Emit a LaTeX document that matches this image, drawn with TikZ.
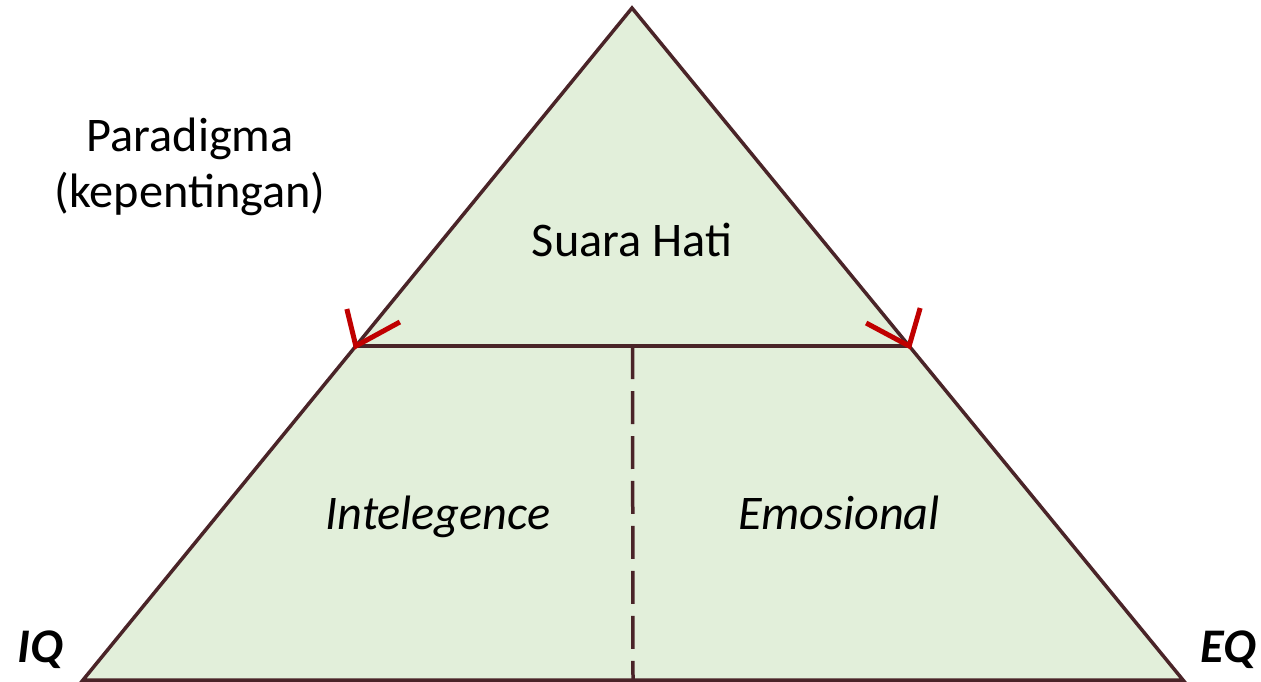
\documentclass[tikz,border=0pt]{standalone}
\usepackage{fontspec}
\setmainfont{Carlito}
\usetikzlibrary{calc}
\definecolor{pyrfill}{HTML}{E2EFDA}
\definecolor{pyrline}{HTML}{4A2428}
\definecolor{tipred}{HTML}{C00000}
\tikzset{
  pyrside/.style={draw=pyrline, line width=0.07cm},
  tipmark/.style={draw=tipred, line width=0.1cm},
  pyrtext/.style={font=\fontsize{27.5}{33}\selectfont, inner sep=0pt, anchor=base},
  slanttext/.style={pyrtext, font=\fontsize{27.5}{33}\selectfont\itshape},
  cornertext/.style={pyrtext, font=\fontsize{27.5}{33}\selectfont\bfseries\itshape}
}

\begin{document}
\begin{tikzpicture}[x=0.02cm, y=-0.02cm]
    \useasboundingbox (0,0) rectangle (1261,682);
    % corners of the pyramid
    \coordinate (apex) at (632,8);
    \coordinate (bl) at (83,680);
    \coordinate (br) at (1183,680);
    \coordinate (ml) at ($(apex)!0.503!(bl)$);
    \coordinate (mr) at ($(apex)!0.503!(br)$);
    \coordinate (mid) at ($(ml)!0.5!(mr)$);
    \coordinate (bm) at ($(bl)!0.5!(br)$);

    \fill [pyrfill] (apex) -- (bl) -- (br) -- cycle;
    \draw [pyrside, dash pattern=on 0.66cm off 0.24cm] (mid) -- (bm);
    \draw [pyrside] (ml) -- (mr);
    \draw [pyrside, line join=miter] (apex) -- (bl) -- (br) -- cycle;

    % red marks at the middle line
    \draw [tipmark] ($(ml)+(-9,-37)$) -- (ml) -- ($(ml)+(44,-24)$);
    \draw [tipmark] ($(mr)+(11,-38)$) -- (mr) -- ($(mr)+(-43,-23)$);

    \node (hati) [pyrtext] at (632,256) {Suara Hati};
    \node (intel) [slanttext] at (438,529) {Intelegence};
    \node (emo) [slanttext] at (839,529) {Emosional};
    \node (para) [pyrtext] at (190,152) {Paradigma};
    \node (kep) [pyrtext] at (190,208) {(kepentingan)};
    \node (iq) [cornertext] at (40,662) {IQ};
    \node (eq) [cornertext] at (1228,662) {EQ};
\end{tikzpicture}
\end{document}
